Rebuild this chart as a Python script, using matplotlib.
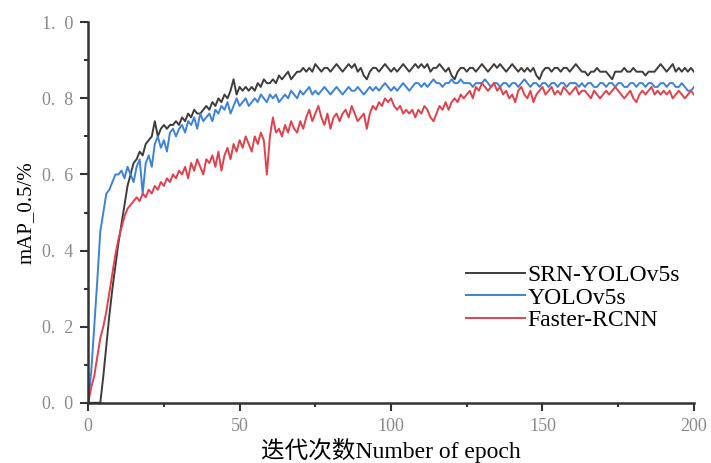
import numpy as np
import matplotlib
matplotlib.use("Agg")
import matplotlib.pyplot as plt
from matplotlib.ticker import MultipleLocator, FuncFormatter

plt.rcParams['font.family'] = ['Liberation Serif', 'Noto Sans CJK SC']

epochs = np.arange(0, 201)

srn_yolov5s = [
    0.00, 0.00, 0.00, 0.00, 0.00, 0.07, 0.15, 0.23, 0.30, 0.36,
    0.42, 0.47, 0.52, 0.57, 0.60, 0.63, 0.64, 0.66, 0.65, 0.68,
    0.69, 0.70, 0.74, 0.70, 0.72, 0.73, 0.72, 0.73, 0.73, 0.74,
    0.73, 0.75, 0.74, 0.76, 0.75, 0.77, 0.76, 0.76, 0.77, 0.78,
    0.77, 0.79, 0.78, 0.80, 0.79, 0.81, 0.80, 0.82, 0.85, 0.81,
    0.83, 0.82, 0.83, 0.82, 0.83, 0.82, 0.84, 0.83, 0.85, 0.84,
    0.84, 0.85, 0.84, 0.86, 0.85, 0.86, 0.87, 0.85, 0.86, 0.87,
    0.87, 0.88, 0.87, 0.88, 0.87, 0.89, 0.88, 0.87, 0.88, 0.88,
    0.87, 0.88, 0.89, 0.88, 0.87, 0.88, 0.89, 0.88, 0.89, 0.87,
    0.88, 0.86, 0.85, 0.87, 0.88, 0.88, 0.87, 0.88, 0.89, 0.88,
    0.87, 0.88, 0.87, 0.88, 0.89, 0.88, 0.87, 0.88, 0.89, 0.88,
    0.89, 0.88, 0.89, 0.87, 0.88, 0.88, 0.89, 0.88, 0.87, 0.88,
    0.86, 0.85, 0.87, 0.88, 0.88, 0.87, 0.88, 0.88, 0.87, 0.88,
    0.89, 0.88, 0.87, 0.88, 0.89, 0.88, 0.89, 0.88, 0.87, 0.88,
    0.89, 0.88, 0.87, 0.88, 0.87, 0.88, 0.87, 0.88, 0.86, 0.85,
    0.87, 0.88, 0.88, 0.87, 0.88, 0.88, 0.87, 0.88, 0.88, 0.87,
    0.88, 0.89, 0.88, 0.87, 0.87, 0.86, 0.87, 0.87, 0.88, 0.87,
    0.87, 0.87, 0.86, 0.85, 0.87, 0.87, 0.87, 0.88, 0.87, 0.87,
    0.88, 0.87, 0.87, 0.87, 0.86, 0.87, 0.87, 0.87, 0.88, 0.89,
    0.88, 0.87, 0.88, 0.89, 0.87, 0.88, 0.87, 0.88, 0.87, 0.88,
    0.87,
]

yolov5s = [
    0.00, 0.08, 0.20, 0.32, 0.45, 0.50, 0.55, 0.56, 0.58, 0.60,
    0.60, 0.61, 0.59, 0.62, 0.60, 0.58, 0.62, 0.64, 0.55, 0.63,
    0.65, 0.62, 0.68, 0.70, 0.67, 0.69, 0.66, 0.71, 0.72, 0.70,
    0.72, 0.73, 0.71, 0.74, 0.73, 0.75, 0.72, 0.76, 0.74, 0.75,
    0.76, 0.74, 0.77, 0.76, 0.78, 0.77, 0.79, 0.76, 0.78, 0.80,
    0.78, 0.79, 0.80, 0.78, 0.79, 0.80, 0.79, 0.81, 0.80, 0.79,
    0.81, 0.80, 0.81, 0.79, 0.80, 0.81, 0.80, 0.82, 0.81, 0.80,
    0.82, 0.81, 0.82, 0.83, 0.81, 0.82, 0.81, 0.82, 0.83, 0.82,
    0.81, 0.82, 0.83, 0.82, 0.81, 0.82, 0.83, 0.82, 0.82, 0.83,
    0.82, 0.81, 0.82, 0.83, 0.82, 0.83, 0.82, 0.83, 0.84, 0.83,
    0.82, 0.83, 0.82, 0.83, 0.84, 0.83, 0.82, 0.83, 0.84, 0.84,
    0.83, 0.84, 0.83, 0.84, 0.85, 0.84, 0.84, 0.83, 0.84, 0.84,
    0.85, 0.84, 0.84, 0.85, 0.84, 0.84, 0.84, 0.83, 0.84, 0.84,
    0.84, 0.85, 0.84, 0.83, 0.84, 0.84, 0.83, 0.84, 0.84, 0.83,
    0.84, 0.84, 0.83, 0.84, 0.85, 0.84, 0.83, 0.84, 0.84, 0.83,
    0.84, 0.84, 0.83, 0.84, 0.84, 0.83, 0.84, 0.84, 0.83, 0.84,
    0.84, 0.84, 0.83, 0.84, 0.83, 0.84, 0.84, 0.83, 0.83, 0.84,
    0.84, 0.83, 0.84, 0.84, 0.83, 0.84, 0.84, 0.83, 0.83, 0.84,
    0.84, 0.83, 0.84, 0.84, 0.83, 0.84, 0.84, 0.83, 0.83, 0.84,
    0.84, 0.83, 0.84, 0.84, 0.83, 0.83, 0.84, 0.83, 0.82, 0.82,
    0.83,
]

faster_rcnn = [
    0.00, 0.04, 0.07, 0.12, 0.17, 0.20, 0.24, 0.29, 0.34, 0.39,
    0.43, 0.46, 0.49, 0.51, 0.52, 0.53, 0.54, 0.53, 0.55, 0.54,
    0.56, 0.55, 0.57, 0.56, 0.58, 0.57, 0.59, 0.58, 0.60, 0.59,
    0.61, 0.60, 0.62, 0.59, 0.63, 0.61, 0.64, 0.62, 0.60, 0.64,
    0.63, 0.65, 0.62, 0.66, 0.61, 0.65, 0.67, 0.64, 0.68, 0.66,
    0.69, 0.67, 0.70, 0.68, 0.66, 0.70, 0.68, 0.71, 0.69, 0.60,
    0.70, 0.75, 0.71, 0.72, 0.70, 0.73, 0.71, 0.74, 0.72, 0.71,
    0.74, 0.72, 0.75, 0.77, 0.74, 0.76, 0.78, 0.75, 0.73, 0.76,
    0.72, 0.75, 0.76, 0.74, 0.76, 0.77, 0.75, 0.78, 0.76, 0.74,
    0.75, 0.76, 0.72, 0.76, 0.78, 0.77, 0.79, 0.78, 0.80, 0.79,
    0.80, 0.78, 0.77, 0.78, 0.76, 0.77, 0.76, 0.77, 0.75, 0.77,
    0.76, 0.78, 0.77, 0.75, 0.74, 0.76, 0.78, 0.77, 0.79, 0.77,
    0.79, 0.80, 0.79, 0.81, 0.80, 0.81, 0.82, 0.80, 0.83, 0.82,
    0.84, 0.83, 0.82, 0.83, 0.84, 0.82, 0.83, 0.81, 0.82, 0.80,
    0.81, 0.79, 0.82, 0.83, 0.81, 0.80, 0.82, 0.79, 0.81, 0.82,
    0.83, 0.81, 0.82, 0.83, 0.81, 0.82, 0.81, 0.83, 0.82, 0.81,
    0.82, 0.83, 0.81, 0.82, 0.82, 0.81, 0.80, 0.82, 0.81, 0.80,
    0.81, 0.82, 0.81, 0.82, 0.83, 0.82, 0.81, 0.80, 0.81, 0.82,
    0.80, 0.79, 0.81, 0.82, 0.81, 0.82, 0.83, 0.81, 0.82, 0.81,
    0.82, 0.81, 0.82, 0.80, 0.81, 0.82, 0.81, 0.80, 0.81, 0.82,
    0.81,
]

labels = ["SRN-YOLOv5s", "YOLOv5s", "Faster-RCNN"]
colors = ["#403c3c", "#3c82d8", "#e2414b"]

fig = plt.figure(figsize=(7.11, 4.63), dpi=100)
ax = fig.add_axes([0.124, 0.13, 0.852, 0.822])

for ys, lab, c in zip([srn_yolov5s, yolov5s, faster_rcnn], labels, colors):
    ax.plot(epochs, ys, color=c, lw=1.4, label=lab)

ax.set_xlim(0, 200)
ax.set_ylim(0, 1.0)
ax.xaxis.set_major_locator(MultipleLocator(50))
ax.xaxis.set_minor_locator(MultipleLocator(25))
ax.yaxis.set_major_locator(MultipleLocator(0.2))
ax.yaxis.set_minor_locator(MultipleLocator(0.1))
ax.yaxis.set_major_formatter(FuncFormatter(lambda v, p: ("%.1f" % v).replace(".", ".  ")))

for s in ["top", "right"]:
    ax.spines[s].set_visible(False)
for s in ["left", "bottom"]:
    ax.spines[s].set_linewidth(1.8)
    ax.spines[s].set_color("#333333")

ax.tick_params(which="major", direction="out", length=6, width=1.5, color="#333333",
               labelsize=13, labelcolor="#8a8a8a", pad=5)
ax.tick_params(which="minor", direction="out", length=3, width=1.5, color="#333333")

ax.set_ylabel("mAP_0.5/%", fontsize=15, labelpad=4)
ax.set_xlabel("迭代次数Number of epoch", fontsize=17, labelpad=2)

leg = ax.legend(loc="center right", bbox_to_anchor=(0.977, 0.276), frameon=False,
                fontsize=17, handlelength=2.5, handletextpad=0.1, labelspacing=0.05,
                borderpad=0, borderaxespad=0)

fig.savefig("out.png", dpi=100)
